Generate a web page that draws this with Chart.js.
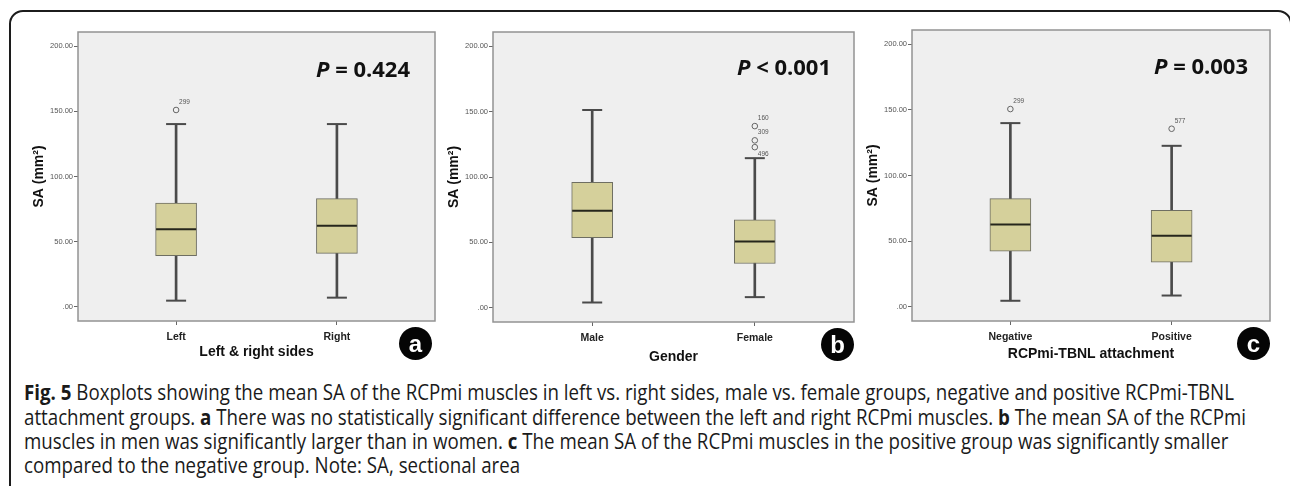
<!DOCTYPE html>
<html><head><meta charset="utf-8">
<script src="https://cdn.jsdelivr.net/npm/chart.js@4.4.1/dist/chart.umd.min.js"></script>
<style>
html,body{margin:0;padding:0;background:#fff;width:1290px;height:486px;overflow:hidden;position:relative;font-family:"Liberation Sans",Arial,sans-serif;}
#frame{position:absolute;left:9px;top:10px;width:1283px;height:490px;box-sizing:border-box;border:2px solid #1c1c1c;border-radius:14px;}
canvas{position:absolute;}
.pval{position:absolute;font-family:"Open Sans",sans-serif;font-weight:700;font-size:22px;line-height:22px;color:#111;white-space:nowrap;}
.badge{position:absolute;width:33px;height:33px;border-radius:50%;background:#050505;color:#fff;font:bold 24px "Liberation Sans",Arial,sans-serif;display:flex;align-items:center;justify-content:center;line-height:1;}
.cap{position:absolute;left:24px;font-family:"Open Sans",sans-serif;font-size:21px;line-height:24px;color:#1a1a1a;white-space:nowrap;transform-origin:0 50%;}
</style></head>
<body>
<div id="frame"></div>
<canvas id="ca" width="415" height="345" style="left:25px;top:20px"></canvas>
<canvas id="cb" width="419" height="346" style="left:440px;top:20px"></canvas>
<canvas id="cc" width="416" height="347" style="left:859px;top:18px"></canvas>

<div class="pval" style="left:316px;top:57px"><i>P</i> = 0.424</div>
<div class="pval" style="left:737px;top:55px"><i>P</i> &lt; 0.001</div>
<div class="pval" style="left:1154px;top:54px"><i>P</i> = 0.003</div>

<div class="badge" style="left:399px;top:327px">a</div>
<div class="badge" style="left:821px;top:328px">b</div>
<div class="badge" style="left:1237px;top:327px">c</div>

<div class="cap" id="l1" style="top:380px"><b>Fig. 5</b> Boxplots showing the mean SA of the RCPmi muscles in left vs. right sides, male vs. female groups, negative and positive RCPmi-TBNL</div>
<div class="cap" id="l2" style="top:404.5px">attachment groups. <b>a</b> There was no statistically significant difference between the left and right RCPmi muscles. <b>b</b> The mean SA of the RCPmi</div>
<div class="cap" id="l3" style="top:429px">muscles in men was significantly larger than in women. <b>c</b> The mean SA of the RCPmi muscles in the positive group was significantly smaller</div>
<div class="cap" id="l4" style="top:453px">compared to the negative group. Note: SA, sectional area</div>

<script>
// ---- data ----
const yTicks = [0, 50, 100, 150, 200];
const yTickLabels = ['.00', '50.00', '100.00', '150.00', '200.00'];

const catsA = ['Left', 'Right'];
const lowA = [4.8, 7.1];
const q1A = [39.3, 41.1];
const medA = [59.5, 62.3];
const q3A = [79.7, 83.0];
const highA = [140.2, 140.2];
const outA = [[151.0], []];
const outIdA = [['299'], []];

const catsB = ['Male', 'Female'];
const lowB = [4.1, 8.2];
const q1B = [53.6, 33.9];
const medB = [74.3, 50.8];
const q3B = [96.0, 67.2];
const highB = [151.2, 114.4];
const outB = [[], [138.9, 128.0, 122.8]];
const outIdB = [[], ['160', '309', '496']];

const catsC = ['Negative', 'Positive'];
const lowC = [4.6, 8.6];
const q1C = [42.4, 34.0];
const medC = [62.6, 54.2];
const q3C = [82.4, 73.5];
const highC = [139.9, 122.6];
const outC = [[150.6], [135.6]];
const outIdC = [['299'], ['577']];

// ---- drawing ----
const areaPlugin = {
  id: 'areaPlugin',
  beforeDraw(chart) {
    const {ctx, chartArea: a} = chart;
    ctx.save();
    ctx.fillStyle = '#efefef';
    ctx.fillRect(a.left, a.top, a.right - a.left, a.bottom - a.top);
    ctx.restore();
  },
  afterDraw(chart) {
    const {ctx, chartArea: a} = chart;
    ctx.save();
    ctx.strokeStyle = '#939393';
    ctx.lineWidth = 1.5;
    ctx.strokeRect(a.left, a.top, a.right - a.left, a.bottom - a.top);
    const idx = chart.data.datasets.findIndex(d => d.label === 'outliers');
    if (idx >= 0) {
      const meta = chart.getDatasetMeta(idx);
      const data = chart.data.datasets[idx].data;
      ctx.font = '6.5px "Liberation Sans", Arial, sans-serif';
      ctx.fillStyle = '#555';
      ctx.textAlign = 'left';
      ctx.textBaseline = 'middle';
      let prev = null;
      meta.data.forEach((el, i) => {
        let ly = el.y - 8;
        if (prev && Math.abs(prev.x - el.x) < 1 && Math.abs(prev.y - ly) < 10) ly = el.y + 7.5;
        ctx.fillText(data[i].id, el.x + 3, ly);
        prev = {x: el.x, y: ly};
      });
    }
    ctx.restore();
  }
};

function makePanel(id, cats, low, q1, med, q3, high, outs, outIds, xTitle, titlePadBottom) {
  const boxes = cats.map((c, i) => ({x: i + 1, y: [q1[i], q3[i]]}));
  const whisk = cats.map((c, i) => ({x: i + 1, y: [low[i], high[i]]}));
  const caps = [];
  cats.forEach((c, i) => { caps.push({x: i + 1, y: low[i]}); caps.push({x: i + 1, y: high[i]}); });
  const meds = cats.map((c, i) => ({x: i + 1, y: med[i]}));
  const outPts = [];
  outs.forEach((arr, i) => arr.forEach((v, j) => outPts.push({x: i + 1, y: v, id: outIds[i][j]})));
  const stroke = '#4a4a4a';
  new Chart(document.getElementById(id), {
    type: 'bar',
    data: {
      datasets: [
        {label: 'whisker', type: 'bar', data: whisk, backgroundColor: stroke, barThickness: 2, grouped: false, order: 4},
        {label: 'box', type: 'bar', data: boxes, backgroundColor: '#d5d09b', borderColor: '#6e6e62', borderWidth: 1, borderSkipped: false, barThickness: 41, grouped: false, order: 3},
        {label: 'caps', type: 'line', showLine: false, data: caps, pointStyle: 'line', radius: 10, borderWidth: 2, borderColor: stroke, order: 2},
        {label: 'median', type: 'line', showLine: false, data: meds, pointStyle: 'line', radius: 20, borderWidth: 2, borderColor: '#26261c', order: 1},
        {label: 'outliers', type: 'line', showLine: false, data: outPts, pointStyle: 'circle', radius: 2.8, borderWidth: 1, borderColor: '#666', backgroundColor: 'rgba(0,0,0,0)', order: 0}
      ]
    },
    options: {
      responsive: false,
      animation: false,
      events: [],
      layout: {autoPadding: false, padding: {top: 12, right: 5, left: 0, bottom: 0}},
      plugins: {legend: {display: false}, tooltip: {enabled: false}},
      scales: {
        x: {
          type: 'linear', min: 0.39, max: 2.61, offset: false, bounds: 'data',
          afterBuildTicks: s => { s.ticks = cats.map((c, i) => ({value: i + 1})); },
          afterFit: s => { s.height = 44; },
          ticks: {callback: v => cats[v - 1], autoSkip: false, maxRotation: 0, padding: 6,
                  font: {family: '"Liberation Sans", Arial, sans-serif', size: 10.5, weight: 'bold'}, color: '#222'},
          grid: {offset: false, drawOnChartArea: false, drawTicks: true, tickLength: 4, color: '#666'},
          border: {display: false},
          title: {display: true, text: xTitle, color: '#111', padding: {top: 0, bottom: titlePadBottom},
                  font: {family: '"Liberation Sans", Arial, sans-serif', size: 14, weight: 'bold'}}
        },
        y: {
          type: 'linear', min: -10.8, max: 210.8, bounds: 'data',
          afterBuildTicks: s => { s.ticks = yTicks.map(v => ({value: v})); },
          afterFit: s => { s.width = 53; },
          ticks: {callback: v => yTickLabels[yTicks.indexOf(v)], autoSkip: false, padding: 1,
                  font: {family: '"Liberation Sans", Arial, sans-serif', size: 7.5}, color: '#555'},
          grid: {drawOnChartArea: false, drawTicks: true, tickLength: 4, color: '#666'},
          border: {display: false},
          title: {display: true, text: 'SA (mm²)', color: '#111', padding: {top: 5.6, bottom: 0},
                  font: {family: '"Liberation Sans", Arial, sans-serif', size: 14, weight: 'bold'}}
        }
      }
    },
    plugins: [areaPlugin]
  });
}

makePanel('ca', catsA, lowA, q1A, medA, q3A, highA, outA, outIdA, 'Left & right sides', 4);
makePanel('cb', catsB, lowB, q1B, medB, q3B, highB, outB, outIdB, 'Gender', 0.5);
makePanel('cc', catsC, lowC, q1C, medC, q3C, highC, outC, outIdC, 'RCPmi-TBNL attachment', 2.5);

(function fitCaption() {
  const targets = {l1: 1212, l2: 1219, l3: 1205};
  let sum = 0, n = 0;
  Object.keys(targets).forEach(k => { const w = document.getElementById(k).scrollWidth; sum += targets[k] / w; n++; });
  const s = sum / n;
  ['l1', 'l2', 'l3', 'l4'].forEach(k => { document.getElementById(k).style.transform = 'scaleX(' + s.toFixed(4) + ')'; });
})();
</script>
</body></html>
